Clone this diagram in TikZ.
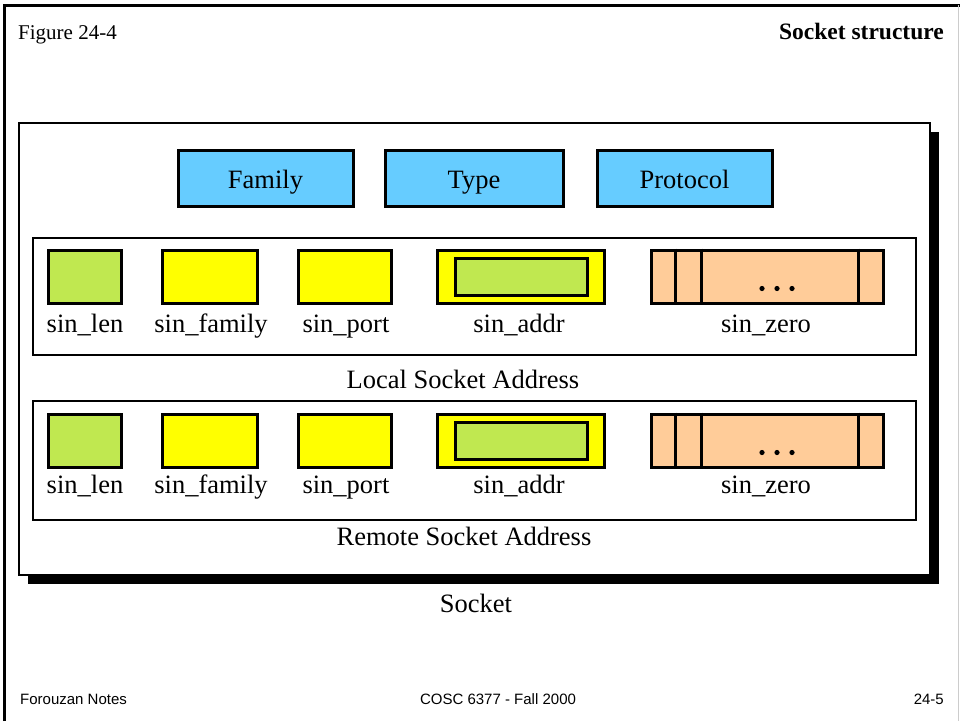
\documentclass[tikz,border=0pt]{standalone}
\usepackage{fontspec}
\setmainfont{Liberation Serif}
\setsansfont{Liberation Sans}
\usepackage{tikz}
\usetikzlibrary{shadows}
\definecolor{skyblue}{HTML}{66CCFF}
\definecolor{lengreen}{HTML}{C0E850}
\definecolor{peach}{HTML}{FFCC99}
\definecolor{fieldyellow}{HTML}{FFFF00}

\begin{document}
\begin{tikzpicture}[x=1pt, y=-1pt,
	lbl/.style = {font=\fontsize{26.5}{30}\selectfont, inner sep=0},
	field/.style = {draw, line width=3pt, minimum height=53pt, inner sep=0},
	head/.style = {field, fill=skyblue, minimum height=56pt, lbl, text height=22pt, text depth=2pt},
	addrbox/.style = {draw, line width=2pt, inner sep=0}]
	\useasboundingbox (0,0) rectangle (960,721);
	% page frame
	\draw[line width=3pt] (4,721) -- (4,5) -- (960,5);
	\draw[gray!40] (958,5) -- (958,721);
	\node[font=\fontsize{21}{24}\selectfont, anchor=base west, inner sep=0] (fig) at (18,39) {Figure 24-4};
	\node[font=\fontsize{23.5}{26}\selectfont\bfseries, anchor=base east, inner sep=0] (title) at (944,39) {Socket structure};
	% socket
	\node[draw, line width=2.5pt, fill=white, minimum width=911pt, minimum height=452pt,
	      general shadow={fill=black, shadow xshift=9pt, shadow yshift=-9pt}] (socket) at (474.5,349) {};
	\node[head, minimum width=175pt] (family) at (265.5,178) {Family};
	\node[head, minimum width=178pt] (type) at (474,178) {Type};
	\node[head, minimum width=175pt] (proto) at (684.5,178) {Protocol};
	% the two address structures
	\node[addrbox, minimum width=883pt, minimum height=117pt] (local) at (474.5,296.5) {};
	\node[addrbox, minimum width=883pt, minimum height=119pt] (remote) at (474.5,460) {};
	\foreach \r/\y/\ly in {l/276.5/332, r/440.5/493} {
		\node[field, fill=lengreen, minimum width=73pt] (\r len) at (85,\y) {};
		\node[field, fill=fieldyellow, minimum width=95pt] (\r fam) at (209.5,\y) {};
		\node[field, fill=fieldyellow, minimum width=93pt] (\r port) at (345,\y) {};
		\node[field, fill=fieldyellow, minimum width=167pt] (\r addr) at (520.5,\y) {};
		\node[field, fill=lengreen, minimum width=132pt, minimum height=37pt] (\r ip) at (521,\y) {};
		\node[field, fill=peach, minimum width=232pt] (\r zero) at (767,\y) {};
		\draw[line width=3pt] ([xshift=26pt]\r zero.north west) -- ([xshift=26pt]\r zero.south west);
		\draw[line width=3pt] ([xshift=52pt]\r zero.north west) -- ([xshift=52pt]\r zero.south west);
		\draw[line width=3pt] ([xshift=-26pt]\r zero.north east) -- ([xshift=-26pt]\r zero.south east);
		\foreach \d in {-5,10,25}
			\fill ([xshift=\d pt, yshift=-12pt]\r zero.center) circle (2.6pt);
		\node[lbl, anchor=base] (\r lenlbl) at (85,\ly) {sin\_len};
		\node[lbl, anchor=base] (\r famlbl) at (211,\ly) {sin\_family};
		\node[lbl, anchor=base] (\r portlbl) at (346,\ly) {sin\_port};
		\node[lbl, anchor=base] (\r addrlbl) at (519,\ly) {sin\_addr};
		\node[lbl, anchor=base] (\r zerolbl) at (766,\ly) {sin\_zero};
	}
	\node[lbl, anchor=base] (locallbl) at (463,388) {Local Socket Address};
	\node[lbl, anchor=base] (remotelbl) at (464,545) {Remote Socket Address};
	\node[lbl, anchor=base] (socketlbl) at (476,612) {Socket};
	% footer
	\node[font=\sffamily\fontsize{15}{18}\selectfont, anchor=base west, inner sep=0] (notes) at (20,704) {Forouzan Notes};
	\node[font=\sffamily\fontsize{15}{18}\selectfont, anchor=base, inner sep=0] (course) at (498,704) {COSC 6377 - Fall 2000};
	\node[font=\sffamily\fontsize{15}{18}\selectfont, anchor=base east, inner sep=0] (page) at (944,704) {24-5};
\end{tikzpicture}
\end{document}
